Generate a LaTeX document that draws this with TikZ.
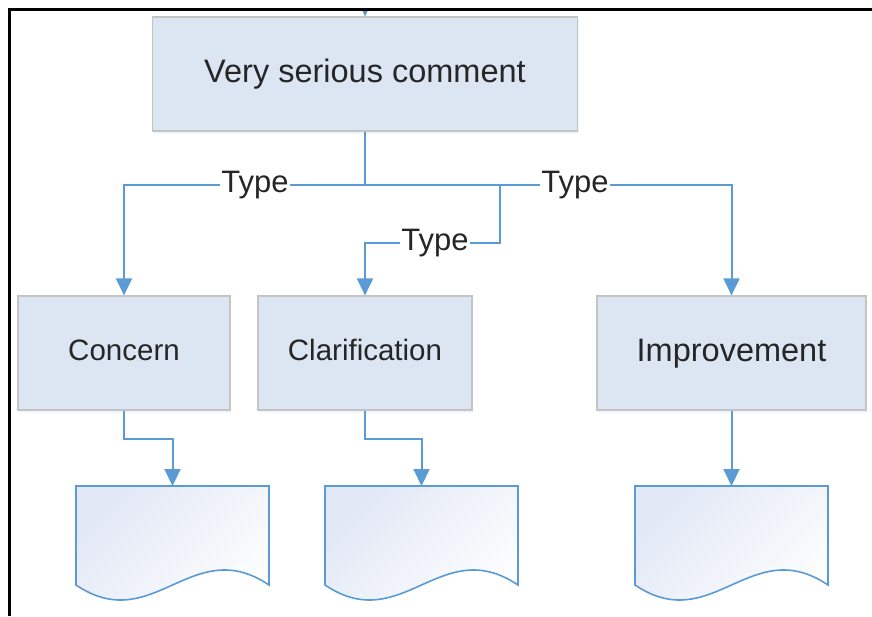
\documentclass[tikz,border=0pt]{standalone}
\usepackage{fontspec}
\setmainfont{Liberation Sans}
\usetikzlibrary{arrows.meta,shadows,calc}
\definecolor{boxfill}{HTML}{DCE6F2}
\definecolor{boxline}{HTML}{C4C4C4}
\definecolor{flow}{HTML}{5B9BD5}
\definecolor{docfill}{HTML}{E2E8F5}
\definecolor{ink}{HTML}{262626}

\begin{document}
\begin{tikzpicture}[x=1pt,y=-1pt,
  procbox/.style={draw=boxline, line width=1.2pt, fill=boxfill, inner sep=0pt, text=ink,
    drop shadow={shadow xshift=1pt, shadow yshift=-3pt, opacity=0.15, fill=flow!60}},
  bigtext/.style={font=\fontsize{32.5}{32.5}\selectfont, text height=23pt, text depth=7pt},
  smalltext/.style={font=\fontsize{29.5}{29.5}\selectfont, text height=21pt, text depth=6pt},
  flowline/.style={draw=flow, line width=2pt},
  flowarrow/.style={flowline, -{Triangle[width=16pt,length=17pt]}},
  typelabel/.style={fill=white, inner xsep=1pt, inner ysep=0pt, text=ink,
    font=\fontsize{31}{31}\selectfont},
  docshape/.style={draw=flow, line width=1.6pt, left color=docfill, right color=white,
    shading angle=45},
  paperdoc/.pic={
    \draw[docshape] (0,0) -- (193,0) -- (193,99)
      .. controls (115.8,47) and (77.2,151) .. (0,99) -- cycle;
  }
]
\useasboundingbox (0,0) rectangle (872,616);

% process boxes
\node[procbox, bigtext, minimum width=425pt, minimum height=114pt]
  (top) at (365,74) {Very serious comment};
\node[procbox, smalltext, minimum width=212pt, minimum height=114pt]
  (concern) at (124,353) {Concern};
\node[procbox, smalltext, minimum width=214pt, minimum height=114pt]
  (clar) at (365,353) {Clarification};
\node[procbox, bigtext, minimum width=269pt, minimum height=114pt]
  (improve) at (731.5,353) {Improvement};

% documents
\pic at (76,486) {paperdoc};
\pic at (325,486) {paperdoc};
\pic at (635,486) {paperdoc};
\coordinate (doc1) at (172.5,486);
\coordinate (doc2) at (421.5,486);
\coordinate (doc3) at (731.5,486);

% branch points
\coordinate (bus) at (365,185);
\coordinate (mid1) at (500,185);
\coordinate (mid2) at (500,243);
\coordinate (entry) at (365,-2);

% connectors from the top box
\draw[flowarrow] (top.south) -- (bus) -| (concern.north);
\draw[flowarrow] (top.south) -- (bus) -| (improve.north);
\draw[flowarrow] (top.south) -- (bus) -- (mid1) -- (mid2) -| (clar.north);

\node[typelabel] (t1) at (255,185) {Type};
\node[typelabel] (t2) at (575,185) {Type};
\node[typelabel] (t3) at (435,243) {Type};

% connectors to the documents
\draw[flowarrow] (concern.south) -- ++(0,28) -| (doc1);
\draw[flowarrow] (clar.south) -- ++(0,28) -| (doc2);
\draw[flowarrow] (improve.south) -- (doc3);

% incoming connector above the top box
\begin{scope}
  \clip (0,9.5) rectangle (872,616);
  \draw[flowarrow] (entry) -- (top.north);
\end{scope}

% frame
\draw[line width=3pt, black] (9.5,616) -- (9.5,9.5) -- (872,9.5);
\end{tikzpicture}
\end{document}
